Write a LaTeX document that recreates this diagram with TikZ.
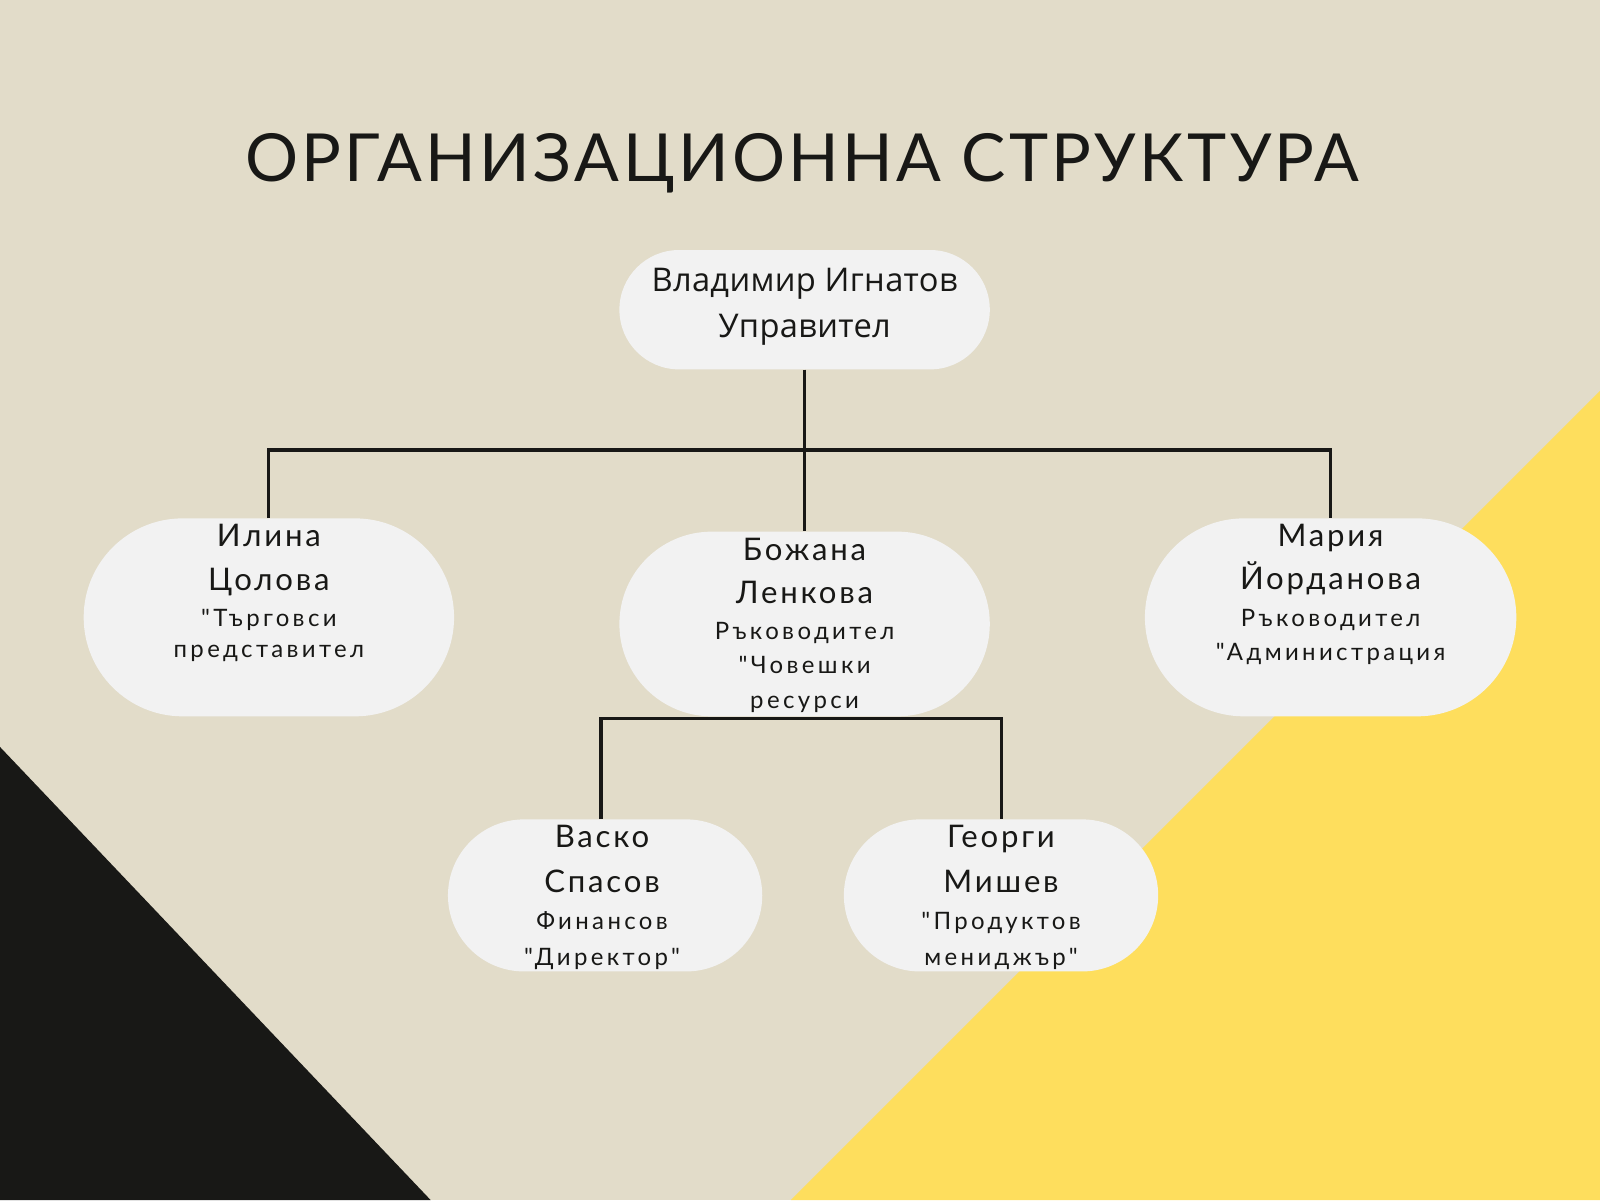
\documentclass[tikz,border=0pt]{standalone}
\usepackage{fontspec}
\setmainfont{Lato}
\newfontfamily\titlefont[LetterSpace=5]{Lato}
\newfontfamily\bossfont[LetterSpace=1]{Open Sans}
\newfontfamily\namefont[LetterSpace=9]{Lato}
\newfontfamily\rolefont[LetterSpace=14]{Lato}
\usetikzlibrary{shapes.misc}
\definecolor{bg}{HTML}{E2DCC9}
\definecolor{card}{HTML}{F2F2F2}
\definecolor{sun}{HTML}{FEDE5D}
\definecolor{ink}{HTML}{181816}
\tikzset{
  card/.style={rounded rectangle, fill=card, draw=none, inner sep=0pt},
  wire/.style={draw=ink, line width=3pt},
  nm/.style={anchor=base, text=ink, font=\namefont\fontsize{30.5}{36}\selectfont, inner sep=0pt},
  rl/.style={anchor=base, text=ink, font=\rolefont\fontsize{23.5}{28}\selectfont, inner sep=0pt},
  bs/.style={anchor=base, text=ink, font=\bossfont\fontsize{32}{38}\selectfont, inner sep=0pt},
}
\begin{document}
\begin{tikzpicture}[x=1pt,y=-1pt]
\useasboundingbox (0,0) rectangle (1568,1176);
\fill[bg] (0,0) rectangle (1568,1176);
\fill[sun] (1568,383) -- (1568,1176) -- (775,1176) -- cycle;
\fill[ink] (0,732) -- (422,1176) -- (0,1176) -- cycle;

\node[anchor=base, text=ink, inner sep=0pt] (title) at (786,178)
  {\titlefont\fontsize{65}{70}\selectfont ОРГАНИЗАЦИОННА СТРУКТУРА};

\node[card, minimum width=363pt, minimum height=117pt] (boss) at (788.5,303.5) {};
\node[card, minimum width=363pt, minimum height=194pt] (ilina) at (263.5,605) {};
\node[card, minimum width=363pt, minimum height=181pt] (bozhana) at (788.5,611.5) {};
\node[card, minimum width=364pt, minimum height=194pt] (maria) at (1304,605) {};
\node[card, minimum width=308pt, minimum height=149pt] (vasko) at (593,877.5) {};
\node[card, minimum width=308pt, minimum height=149pt] (georgi) at (981,877.5) {};

\coordinate (bus) at (788,441);
\coordinate (sub) at (785,704);
\draw[wire] (boss.south) -- (bozhana.north);
\draw[wire] (ilina.north) |- (bus) -| (maria.north);
\draw[wire] ([xshift=-4pt]vasko.north) |- (sub) -| (georgi.north);

\node[bs] (boss1) at (788.5,286) {Владимир Игнатов};
\node[bs] (boss2) at (788.5,331) {Управител};

\node[nm] (il1) at (263.5,536) {Илина};
\node[nm] (il2) at (263.5,579) {Цолова};
\node[rl] (il3) at (263.5,614) {"Търговси};
\node[rl] (il4) at (263.5,644) {представител};

\node[nm] (bo1) at (788.5,549) {Божана};
\node[nm] (bo2) at (788.5,591) {Ленкова};
\node[rl] (bo3) at (788.5,627) {Ръководител};
\node[rl] (bo4) at (788.5,660) {"Човешки};
\node[rl] (bo5) at (788.5,694) {ресурси};

\node[nm] (ma1) at (1304,536) {Мария};
\node[nm] (ma2) at (1304,578) {Йорданова};
\node[rl] (ma3) at (1304,614) {Ръководител};
\node[rl] (ma4) at (1304,647) {"Администрация};

\node[nm] (va1) at (590,831) {Васко};
\node[nm] (va2) at (590,875) {Спасов};
\node[rl] (va3) at (590,911) {Финансов};
\node[rl] (va4) at (590,946) {"Директор"};

\node[nm] (ge1) at (981,831) {Георги};
\node[nm] (ge2) at (981,875) {Мишев};
\node[rl] (ge3) at (981,911) {"Продуктов};
\node[rl] (ge4) at (981,946) {мениджър"};
\end{tikzpicture}
\end{document}
